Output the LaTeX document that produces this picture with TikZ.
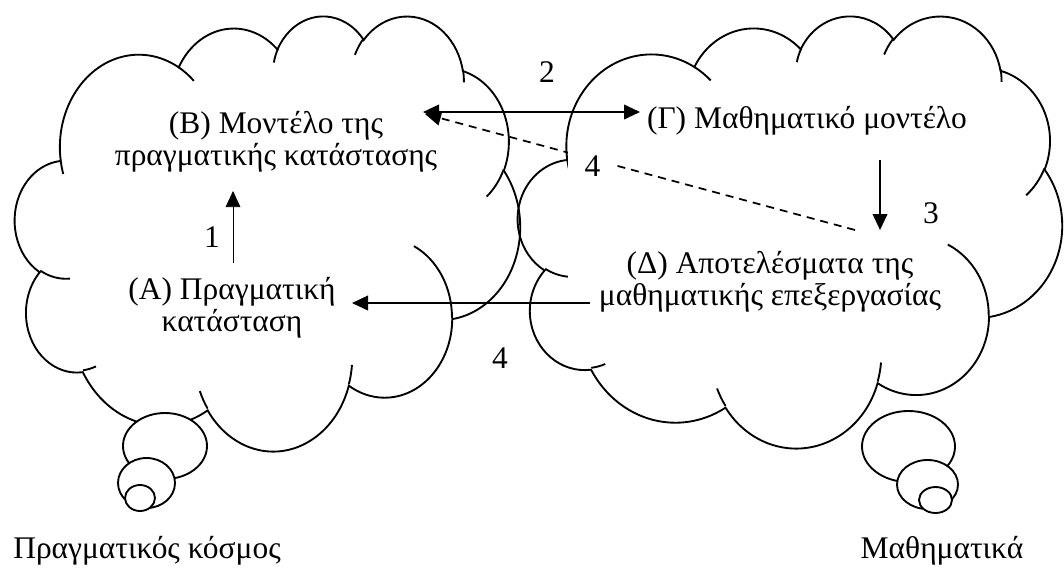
\documentclass[tikz,border=0pt]{standalone}
\usepackage{fontspec}
\setmainfont{Liberation Serif}
\usetikzlibrary{arrows.meta}

% One arc of an Office-style cloud outline: x radius, y radius,
% start angle and sweep (visual angles, degrees). The arc starts at the
% current point, as an arcTo does.
\newcommand\oarc[4]{%
  \pgfextra{%
    \pgfmathsetmacro\oarcA{atan2((#1)*sin(#3),(#2)*cos(#3))}%
    \pgfmathsetmacro\oarcB{atan2((#1)*sin((#3)+(#4)),(#2)*cos((#3)+(#4)))}%
    \pgfmathsetmacro\oarcD{mod(\oarcB-\oarcA+720,360)}%
    \global\let\oarcSt\oarcA\global\let\oarcDl\oarcD}%
  arc[start angle=\oarcSt, delta angle=\oarcDl, x radius=#1pt, y radius=#2pt]}

% Cloud outline in a 43.2 x 43.2 frame, placed at (#1,#2) with size #3 x #4
\newcommand\cloudoutline[4]{%
  \begin{scope}[shift={(#1,#2)}, xscale=#3/43.2, yscale=#4/43.2]
    \draw[cloudline] (3.900,14.370)
      \oarc{6.753}{9.190}{-190.48748}{123.78053}
      \oarc{5.333}{7.267}{-144.10238}{89.94523}
      \oarc{4.365}{5.945}{-145.80792}{99.72302}
      \oarc{4.857}{6.595}{-130.98607}{117.24173}
      \oarc{5.333}{7.273}{-78.70888}{109.02692}
      \oarc{6.775}{9.220}{-46.26725}{130.269}
      \oarc{5.785}{7.867}{0.62502}{114.03333}
      \oarc{6.752}{9.215}{22.4516}{115.17255}
      \oarc{7.720}{10.543}{66.24263}{75.71102}
      \oarc{4.360}{5.918}{-274.94208}{146.73557}
      \oarc{4.345}{5.945}{-246.8285}{152.51885}
      -- cycle;
    \draw[cloudline]
      (4.693,26.177) \oarc{4.345}{5.945}{86.742}{26.4295}
      (6.928,34.899) \oarc{4.360}{5.918}{73.61047}{11.44747}
      (16.478,39.090) \oarc{6.752}{9.215}{137.62415}{14.0811}
      (28.827,34.751) \oarc{6.752}{9.215}{6.45327}{15.99835}
      (34.129,22.954) \oarc{5.785}{7.867}{-70.29235}{70.91737}
      (41.798,15.354) \oarc{5.333}{7.273}{30.31803}{27.7515}
      (38.324,5.426) \oarc{4.857}{6.595}{-13.74433}{14.8589}
      (29.078,3.952) \oarc{4.857}{6.595}{-149.18145}{18.19537}
      (22.141,4.720) \oarc{4.365}{5.945}{-163.49427}{17.68635}
      (14.000,5.192) \oarc{6.753}{9.190}{-66.70695}{12.31935}
      (4.127,15.789) \oarc{6.753}{9.190}{157.65435}{11.85817};
  \end{scope}}

\tikzset{
  cloudline/.style={line width=1.4pt},
  bubble/.style={line width=1.4pt, fill=white},
  lbl/.style={align=center, inner sep=0pt, font=\fontsize{23.6}{24}\selectfont},
  num/.style={inner sep=0pt, font=\fontsize{23.6}{24}\selectfont},
  tri/.tip={Triangle[length=12pt,width=11pt]},
  link/.style={line width=1.3pt, -tri},
  thinlink/.style={line width=0.5pt, -tri},
}

\begin{document}
\begin{tikzpicture}[x=1pt, y=1pt, scale=0.75, yscale=-1]
  \useasboundingbox (0,0) rectangle (1064,568);

  % the two thought clouds
  \cloudoutline{15}{15}{505}{435}
  \cloudoutline{518}{15}{544}{432}

  % thought bubbles under each cloud
  \draw[bubble] (165,446) ellipse[x radius=42pt, y radius=33pt];
  \draw[bubble] (146.5,483) ellipse[x radius=28.5pt, y radius=25pt];
  \draw[bubble] (140,498) ellipse[x radius=15pt, y radius=13pt];
  \draw[bubble] (908.5,446.5) ellipse[x radius=46.5pt, y radius=35.5pt];
  \draw[bubble] (927.5,484.5) ellipse[x radius=30.5pt, y radius=24.5pt];
  \draw[bubble] (935.5,500) ellipse[x radius=16.5pt, y radius=13pt];

  % stages
  \node[lbl] (B) at (276,142) {(Β) Μοντέλο της\\πραγματικής κατάστασης};
  \node[lbl] (A) at (232,308) {(Α) Πραγματική\\κατάσταση};
  \node[lbl, anchor=base] (G) at (807,128) {(Γ) Μαθηματικό μοντέλο};
  \node[lbl] (D) at (770,282) {(Δ) Αποτελέσματα της\\μαθηματικής επεξεργασίας};

  % arrow end points
  \coordinate (a1s) at (233,263);
  \coordinate (a1e) at (233,191);
  \coordinate (a2l) at (423,112);
  \coordinate (a2r) at (640,112);
  \coordinate (a3s) at (880,160);
  \coordinate (a3e) at (880,230);
  \coordinate (a4s) at (855,230);
  \coordinate (a4e) at (425,114);
  \coordinate (a5s) at (590,303);
  \coordinate (a5e) at (352,303);

  % connectors
  \draw[thinlink] (a1s) -- (a1e);
  \draw[link, tri-tri] (a2l) -- (a2r);
  \draw[link] (a3s) -- (a3e);
  \draw[link, dash pattern=on 6pt off 4.5pt] (a4s) -- (a4e);
  \draw[link] (a5s) -- (a5e);

  % step numbers
  \node[num] (n1) at (212,237) {1};
  \node[num] (n2) at (547,72) {2};
  \node[num] (n3) at (931,213) {3};
  % label 4 sits at the top of a white box
  \node[num, fill=white, anchor=north, minimum width=37pt,
        text height=25pt, text depth=85pt] (n4a) at (592.5,143) {4};
  \node[num] (n4b) at (500,358) {4};

  % world captions
  \node[lbl, anchor=base] (real) at (147,558) {Πραγματικός κόσμος};
  \node[lbl, anchor=base] (math) at (942,558) {Μαθηματικά};
\end{tikzpicture}
\end{document}
